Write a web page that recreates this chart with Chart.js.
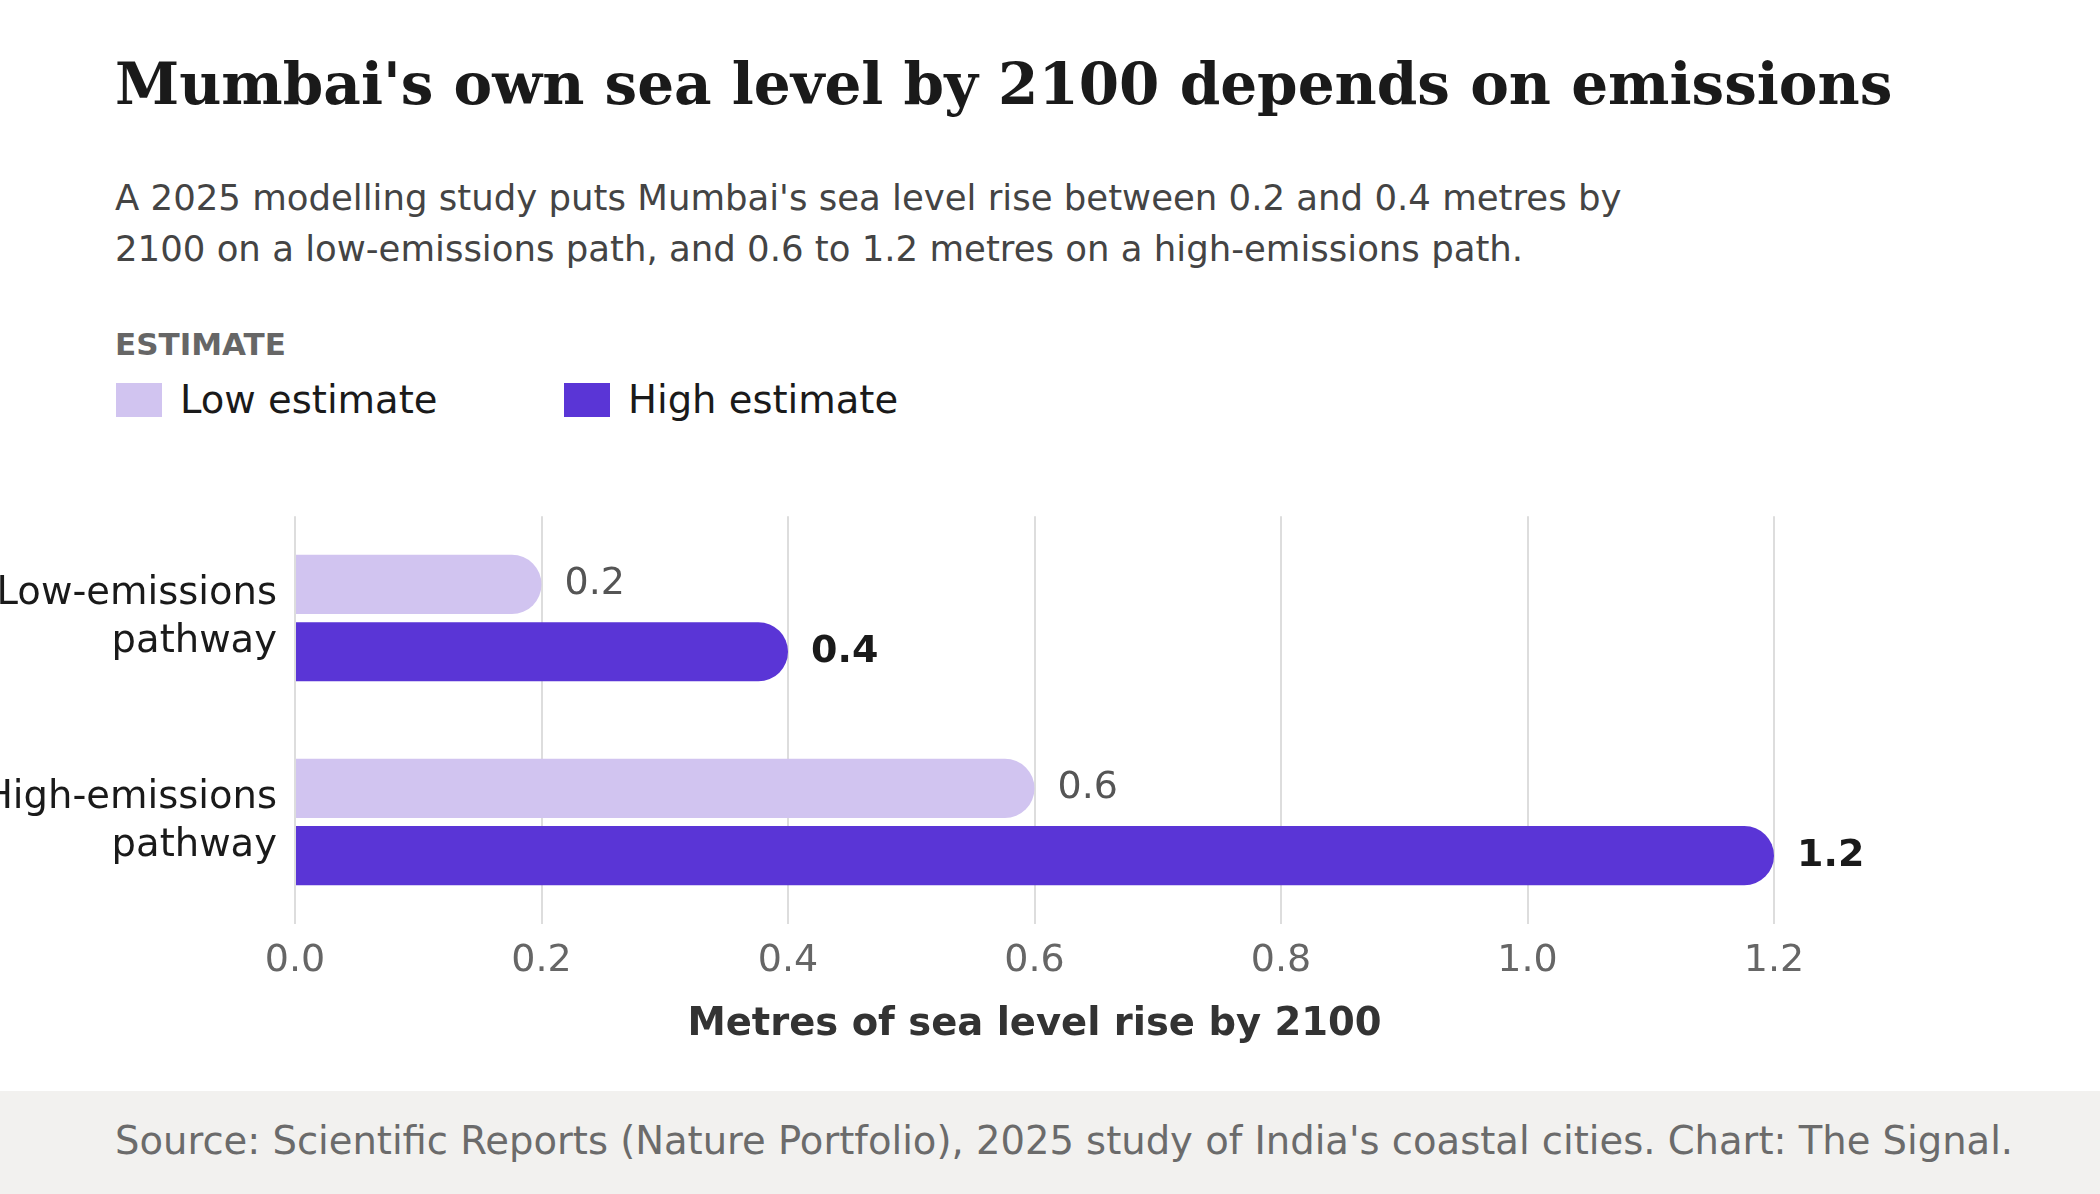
<!DOCTYPE html>
<html>
<head>
<meta charset="utf-8">
<script src="https://cdn.jsdelivr.net/npm/chart.js@4"></script>
<style>
  body { margin: 0; width: 2100px; height: 1194px; background: #fff; font-family: "DejaVu Sans", sans-serif; position: relative; overflow: hidden; }
  h1 { position: absolute; left: 115px; top: 50px; margin: 0; font-family: "DejaVu Serif", serif; font-weight: bold; font-size: 58px; color: #1a1a1a; }
  .sub { position: absolute; left: 115px; top: 172px; margin: 0; font-size: 35.5px; line-height: 51px; color: #444; }
  .legtitle { position: absolute; left: 115px; top: 326px; font-size: 31px; font-weight: bold; color: #666; }
  .leg { position: absolute; top: 377px; font-size: 38.5px; color: #1a1a1a; display: flex; align-items: center; }
  .leg span.box { display: inline-block; width: 46px; height: 34px; margin-right: 18px; }
  #wrap { position: absolute; left: 0; top: 458px; width: 2100px; height: 620px; }
  .foot { position: absolute; left: 0; top: 1091px; width: 2100px; height: 103px; background: #f2f1ef; }
  .foot p { margin: 0; position: absolute; left: 115px; top: 27px; font-size: 38.5px; color: #6b6b6b; }
</style>
</head>
<body>
<h1>Mumbai's own sea level by 2100 depends on emissions</h1>
<p class="sub">A 2025 modelling study puts Mumbai's sea level rise between 0.2 and 0.4 metres by<br>2100 on a low-emissions path, and 0.6 to 1.2 metres on a high-emissions path.</p>
<div class="legtitle">ESTIMATE</div>
<div class="leg" style="left:116px"><span class="box" style="background:#d1c4f0"></span>Low estimate</div>
<div class="leg" style="left:564px"><span class="box" style="background:#5a35d6"></span>High estimate</div>
<div id="wrap"><canvas id="chart"></canvas></div>
<div class="foot"><p>Source: Scientific Reports (Nature Portfolio), 2025 study of India's coastal cities. Chart: The Signal.</p></div>
<script>
const categories = [['Low-emissions', 'pathway'], ['High-emissions', 'pathway']];
const lowValues = [0.2, 0.6];
const highValues = [0.4, 1.2];
const xTicks = [0, 0.2, 0.4, 0.6, 0.8, 1.0, 1.2];

// labels at the bar ends
const valueLabels = {
    id: 'valueLabels',
    afterDatasetsDraw(chart) {
        const ctx = chart.ctx;
        chart.data.datasets.forEach((ds, i) => {
            chart.getDatasetMeta(i).data.forEach((bar, j) => {
                ctx.save();
                ctx.font = (i === 1 ? 'bold ' : '') + '38px "DejaVu Sans"';
                ctx.fillStyle = i === 1 ? '#1a1a1a' : '#555';
                ctx.textBaseline = 'middle';
                ctx.fillText(ds.data[j].toFixed(1), bar.x + 23, bar.y);
                ctx.restore();
            });
        });
    }
};

new Chart(document.getElementById('chart'), {
    type: 'bar',
    data: {
        labels: categories,
        datasets: [
            { label: 'Low estimate', data: lowValues, backgroundColor: '#d1c4f0' },
            { label: 'High estimate', data: highValues, backgroundColor: '#5a35d6' }
        ]
    },
    options: {
        indexAxis: 'y',
        responsive: true,
        maintainAspectRatio: false,
        animation: false,
        layout: { padding: { right: 326, top: 0 } },
        datasets: {
            bar: {
                barPercentage: 0.88,
                categoryPercentage: 0.66,
                borderRadius: { topRight: 40, bottomRight: 40, topLeft: 0, bottomLeft: 0 },
                borderSkipped: 'start'
            }
        },
        plugins: { legend: { display: false }, tooltip: { enabled: false } },
        scales: {
            x: {
                min: 0, max: 1.2,
                afterBuildTicks(axis) { axis.ticks = xTicks.map(v => ({ value: v })); },
                afterFit(axis) { axis.height = 154; },
                grid: { color: '#dddddd', lineWidth: 2, drawTicks: false },
                border: { display: false },
                ticks: { padding: 14, color: '#666', font: { size: 38, family: 'DejaVu Sans' }, callback: v => v.toFixed(1) },
                title: { display: true, text: 'Metres of sea level rise by 2100', color: '#333', font: { size: 38.5, weight: 'bold', family: 'DejaVu Sans' }, padding: { top: 20, bottom: 30 } }
            },
            y: {
                afterFit(axis) { axis.width = 295; },
                grid: { display: false },
                border: { display: false },
                ticks: { padding: 10, color: '#1a1a1a', font: { size: 38.5, family: 'DejaVu Sans', lineHeight: 1.25 } }
            }
        }
    },
    plugins: [valueLabels]
});
</script>
</body>
</html>
